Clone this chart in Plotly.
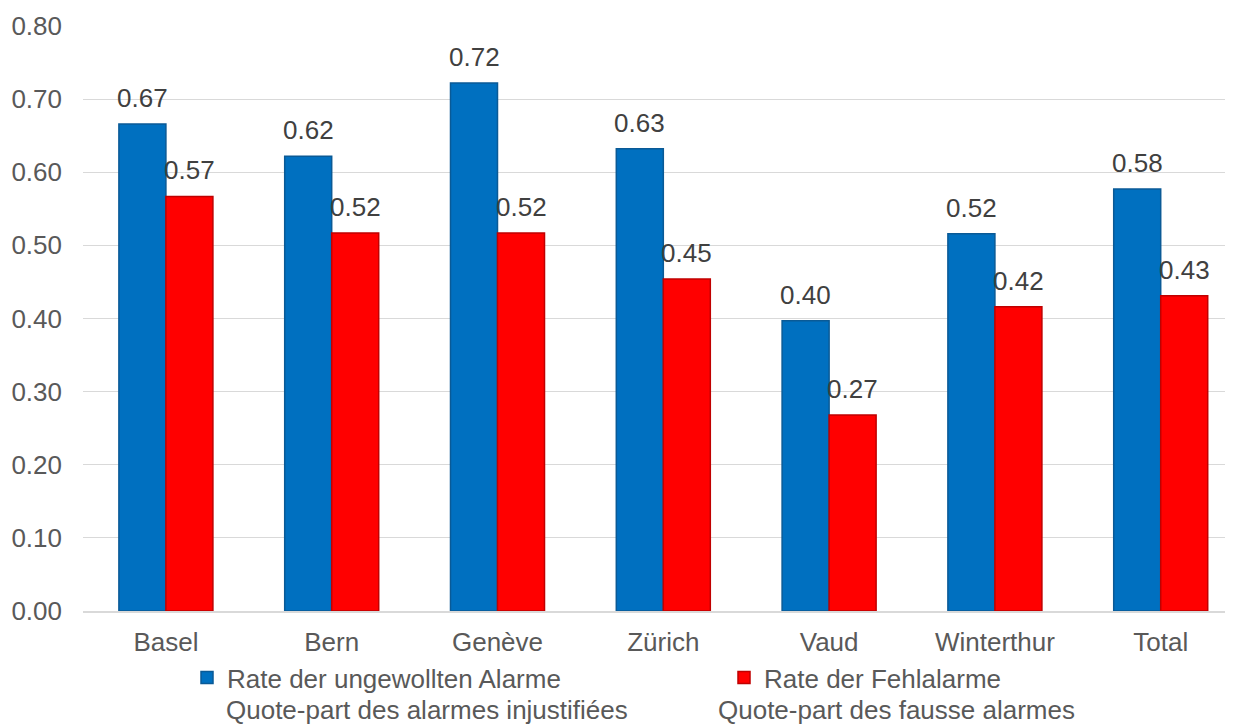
import plotly.graph_objects as go

categories = ["Basel", "Bern", "Genève", "Zürich", "Vaud", "Winterthur", "Total"]
rate_ungewollt = [0.666, 0.622, 0.722, 0.632, 0.397, 0.516, 0.577]
rate_fehl = [0.567, 0.517, 0.517, 0.454, 0.268, 0.416, 0.431]
series_names = ["Rate der ungewollten Alarme", "Rate der Fehlalarme"]
series_names_fr = ["Quote-part des alarmes injustifiées", "Quote-part des fausse alarmes"]
y_ticks = [0.0, 0.1, 0.2, 0.3, 0.4, 0.5, 0.6, 0.7, 0.8]

font_family = "Liberation Sans, Arial, sans-serif"
FS = 26

# page body has an 8px margin: figure is sized so it ends at the window edge
W, H = 1225, 716
L, R, T, B = 75, 0, 18, 113
plot_w = W - L - R
plot_h = H - T - B

fig = go.Figure()
fig.add_trace(go.Bar(
    x=categories, y=rate_ungewollt, name=series_names[0],
    marker=dict(color="#0070C0", line=dict(color="#0A5A96", width=1.5)),
))
fig.add_trace(go.Bar(
    x=categories, y=rate_fehl, name=series_names[1],
    marker=dict(color="#FF0000", line=dict(color="#C00000", width=1.5)),
))

annotations = []
for series, shift in ((rate_ungewollt, -23.5), (rate_fehl, 23.5)):
    for c, v in zip(categories, series):
        annotations.append(dict(
            x=c, y=v, xref="x", yref="y", text=f"{v:.2f}",
            showarrow=False, xshift=shift, yshift=9,
            xanchor="center", yanchor="bottom",
            font=dict(size=FS, color="#404040", family=font_family),
        ))

legend_left = 179
entry_w = 492
text_off = 37
for i, txt in enumerate(series_names_fr):
    annotations.append(dict(
        x=(legend_left + text_off + i * entry_w - L) / plot_w,
        y=(H - B - 702) / plot_h,
        xref="paper", yref="paper", text=txt, showarrow=False,
        xanchor="left", yanchor="middle",
        font=dict(size=FS, color="#595959", family=font_family),
    ))

fig.update_layout(
    width=W, height=H,
    margin=dict(l=L, r=R, t=T, b=B),
    paper_bgcolor="white", plot_bgcolor="white",
    barmode="group", bargap=0.433, bargroupgap=0,
    font=dict(family=font_family, size=FS, color="#595959"),
    showlegend=True,
    legend=dict(
        orientation="h", xref="container", x=legend_left / W, xanchor="left",
        yref="container", y=1 - 646 / H, yanchor="top",
        font=dict(size=FS, color="#595959"), valign="top",
        entrywidth=entry_w, entrywidthmode="pixels",
        itemwidth=30, tracegroupgap=0,
    ),
    annotations=annotations,
)
fig.update_xaxes(
    range=[-0.5, 6.436],
    showgrid=False, showline=True, linecolor="#D9D9D9", linewidth=1.5,
    ticks="", ticklabelstandoff=7, automargin=False,
    tickfont=dict(size=FS, color="#595959"),
)
fig.update_yaxes(
    range=[0, 0.8], tickvals=y_ticks, tickformat=".2f",
    showgrid=True, gridcolor="#D9D9D9", gridwidth=1,
    zeroline=False, showline=False, ticks="",
    ticklabelstandoff=20, automargin=False,
    tickfont=dict(size=FS, color="#595959"),
)

fig.write_html("out.html")
